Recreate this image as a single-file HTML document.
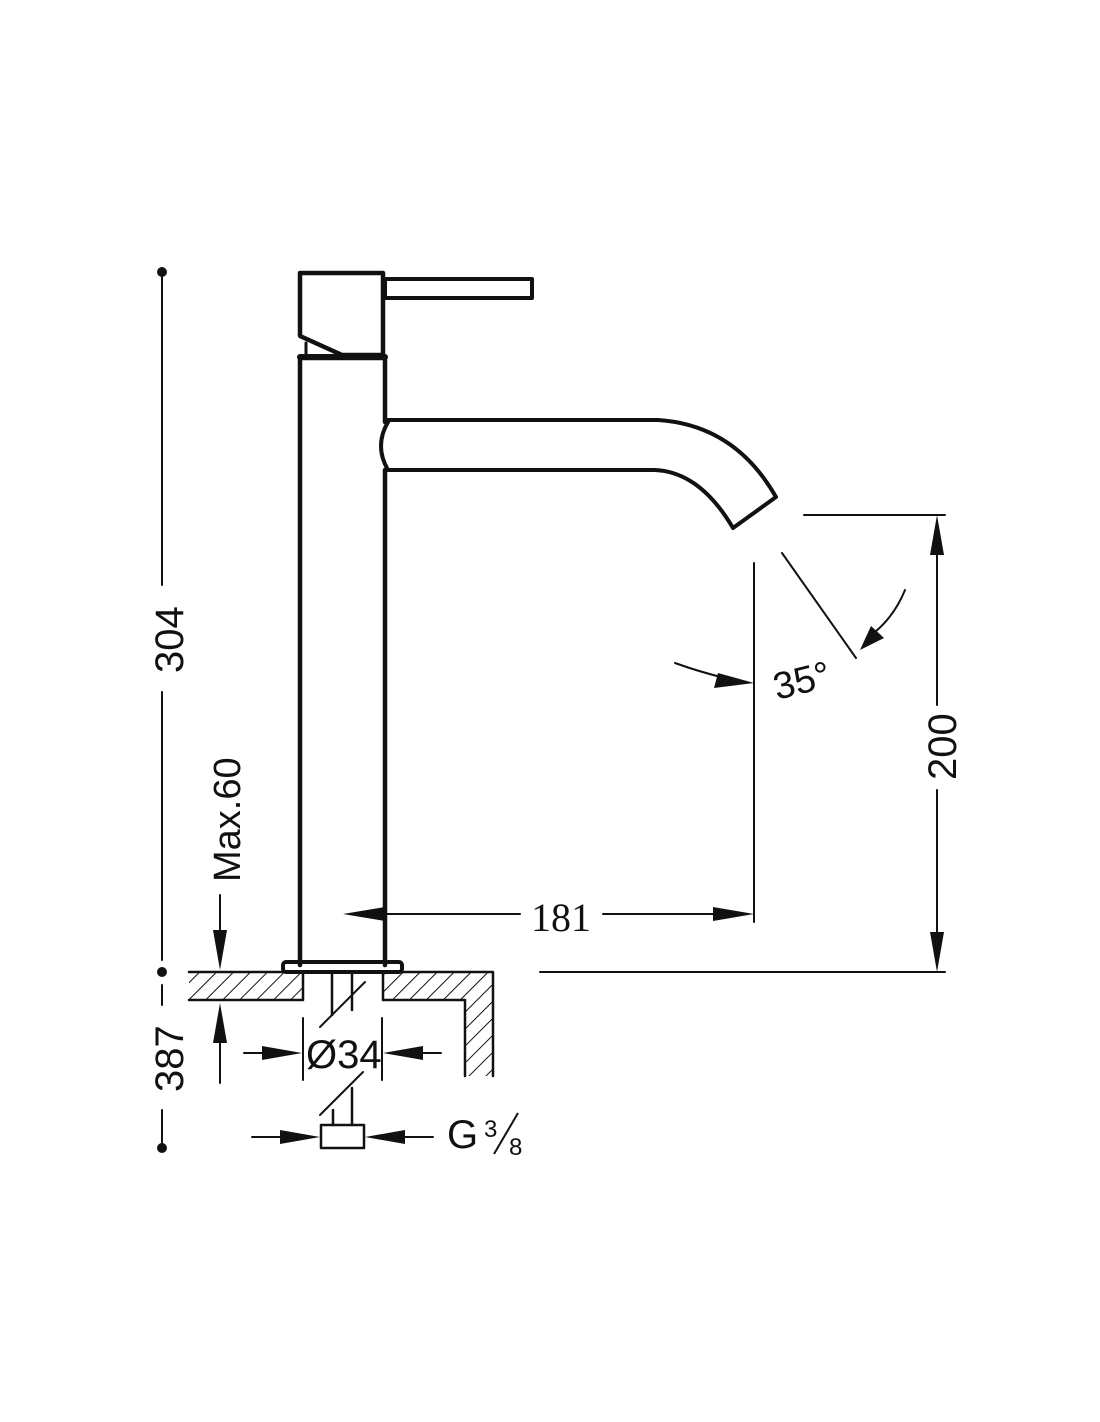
<!DOCTYPE html>
<html><head><meta charset="utf-8"><style>
html,body{margin:0;padding:0;background:#fff;}
svg{display:block;}
text{font-family:"Liberation Sans",sans-serif;fill:#111;}
</style></head><body>
<svg width="1100" height="1422" viewBox="0 0 1100 1422" xmlns="http://www.w3.org/2000/svg">
<defs>
<pattern id="h" patternUnits="userSpaceOnUse" width="12" height="12" patternTransform="rotate(45)">
<line x1="0" y1="0" x2="0" y2="12" stroke="#111" stroke-width="2"/>
</pattern>
</defs>
<g stroke="#111" fill="none" stroke-linecap="round" stroke-linejoin="round">
<circle cx="162" cy="272" r="5" fill="#111" stroke="none"/>
<circle cx="162" cy="972" r="5" fill="#111" stroke="none"/>
<circle cx="162" cy="1148" r="5" fill="#111" stroke="none"/>
<line x1="162" y1="272" x2="162" y2="585" stroke-width="2"/>
<line x1="162" y1="692" x2="162" y2="960" stroke-width="2"/>
<line x1="162" y1="985" x2="162" y2="1005" stroke-width="2"/>
<line x1="162" y1="1110" x2="162" y2="1148" stroke-width="2"/>
<path d="M300 336 L300 273 L383 273 L383 355 L342 355 Z" stroke-width="4.5"/>
<line x1="306" y1="343" x2="306" y2="355" stroke-width="3"/>
<rect x="385" y="279" width="147" height="19" stroke-width="4"/>
<path d="M300 965 L300 358 L385 358 L385 422" stroke-width="4.5"/>
<line x1="385" y1="470" x2="385" y2="965" stroke-width="4.5"/>
<line x1="300" y1="357" x2="385" y2="357" stroke-width="6"/>
<path d="M388 422 Q374 446 388 470" stroke-width="4"/>
<path d="M388 420 L658 420 Q735 425 776 497 L733 528 Q700 472 655 470 L388 470" stroke-width="4"/>
<rect x="283" y="962" width="119" height="10" rx="3" stroke-width="4"/>
<path d="M189 972 L303 972 L303 1000 L189 1000 Z" fill="url(#h)" stroke="none"/>
<path d="M383 972 L493 972 L493 1076 L465 1076 L465 1000 L383 1000 Z" fill="url(#h)" stroke="none"/>
<path d="M189 972 L303 972 L303 1000 L189 1000" stroke-width="2.5"/>
<path d="M383 972 L493 972 L493 1076" stroke-width="2.5"/>
<path d="M465 1076 L465 1000 L383 1000 L383 972" stroke-width="2.5"/>
<line x1="332" y1="972" x2="332" y2="1015" stroke-width="2.5"/>
<line x1="352" y1="972" x2="352" y2="1010" stroke-width="2.5"/>
<line x1="320" y1="1027" x2="365" y2="982" stroke-width="2"/>
<line x1="320" y1="1115" x2="363" y2="1072" stroke-width="2"/>
<line x1="333" y1="1110" x2="333" y2="1125" stroke-width="2.5"/>
<line x1="352" y1="1088" x2="352" y2="1125" stroke-width="2.5"/>
<rect x="321" y="1125" width="43" height="23" stroke-width="2.5"/>
<line x1="303" y1="1018" x2="303" y2="1080" stroke-width="2"/>
<line x1="382" y1="1018" x2="382" y2="1080" stroke-width="2"/>
<line x1="244" y1="1053" x2="280" y2="1053" stroke-width="2"/>
<line x1="405" y1="1053" x2="441" y2="1053" stroke-width="2"/>
<line x1="252" y1="1137" x2="290" y2="1137" stroke-width="2"/>
<line x1="400" y1="1137" x2="433" y2="1137" stroke-width="2"/>
<line x1="220" y1="895" x2="220" y2="935" stroke-width="2"/>
<line x1="220" y1="1030" x2="220" y2="1083" stroke-width="2"/>
<line x1="385" y1="914" x2="520" y2="914" stroke-width="2"/>
<line x1="603" y1="914" x2="720" y2="914" stroke-width="2"/>
<line x1="754" y1="563" x2="754" y2="922" stroke-width="2"/>
<line x1="804" y1="515" x2="945" y2="515" stroke-width="2"/>
<line x1="540" y1="972" x2="945" y2="972" stroke-width="2"/>
<line x1="937" y1="540" x2="937" y2="705" stroke-width="2"/>
<line x1="937" y1="790" x2="937" y2="940" stroke-width="2"/>
<line x1="782" y1="553" x2="856" y2="658" stroke-width="2"/>
<path d="M905 590 Q895 615 875 632" stroke-width="2"/>
<path d="M675 663 Q700 672 725 678" stroke-width="2"/>
</g>
<g fill="#111">
<polygon points="343,914 385,907 385,921"/>
<polygon points="754,914 713,907 713,921"/>
<polygon points="937,515 930,555 944,555"/>
<polygon points="937,972 930,932 944,932"/>
<polygon points="220,970 213,930 227,930"/>
<polygon points="220,1003 213,1043 227,1043"/>
<polygon points="302,1053 262,1046 262,1060"/>
<polygon points="383,1053 423,1046 423,1060"/>
<polygon points="320,1137 280,1130 280,1144"/>
<polygon points="365,1137 405,1130 405,1144"/>
<polygon points="754,683 718,673 714,688"/>
<polygon points="860,650 871,626 884,638"/>
</g>
<text x="0" y="0" font-size="40" transform="translate(183,673) rotate(-90)">304</text>
<text x="0" y="0" font-size="40" transform="translate(183,1092) rotate(-90)">387</text>
<text x="0" y="0" font-size="38" transform="translate(240,882) rotate(-90)">Max.60</text>
<text x="0" y="0" font-size="40" transform="translate(956,780) rotate(-90)">200</text>
<text x="531" y="931" font-size="40" style="font-family:'Liberation Serif',serif">181</text>
<text x="0" y="0" font-size="38" transform="translate(777,700) rotate(-14)">35°</text>
<text x="306" y="1068" font-size="40">Ø34</text>
<text x="447" y="1148" font-size="40">G</text>
<text x="484" y="1137" font-size="24">3</text>
<line x1="494" y1="1154" x2="518" y2="1113" stroke="#111" stroke-width="2"/>
<text x="509" y="1155" font-size="24">8</text>
</svg>
</body></html>
